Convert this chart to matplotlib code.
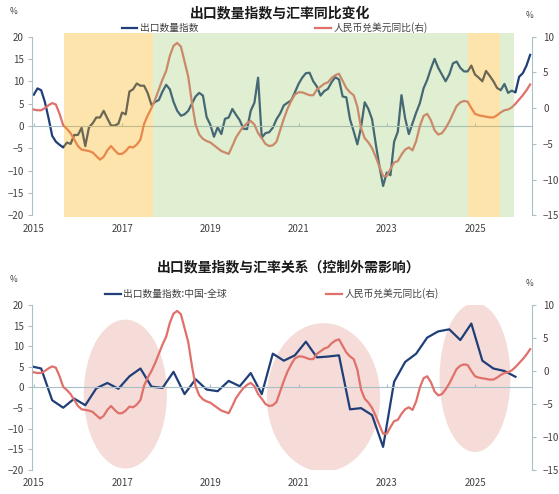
import matplotlib
matplotlib.use("Agg")
import matplotlib.pyplot as plt
from matplotlib.patches import Ellipse
import numpy as np

plt.rcParams['font.family'] = ['Noto Sans CJK SC', 'DejaVu Sans']

# month index: 0 = Jan 2015
months = np.arange(136)

# 出口数量指数 (left axis, %)
export_qty = [
    7.0, 8.4, 8.0, 5.4, 1.8, -2.2, -3.5, -4.2, -4.8, -3.7, -4.0, -2.0,
    -2.0, -0.4, -4.5, -0.3, 0.6, 1.9, 1.9, 3.4, 1.7, 0.1, 0.1, 0.5,
    3.0, 2.6, 7.7, 8.2, 9.5, 9.0, 9.0, 7.3, 4.7, 5.4, 5.8, 7.7,
    9.2, 8.2, 5.4, 3.4, 2.3, 2.6, 3.4, 5.0, 6.6, 7.4, 6.8, 2.0,
    0.3, -2.4, -0.3, -1.8, 1.6, 1.9, 3.8, 2.5, 1.3, -0.6, -0.7, 3.4,
    5.2, 10.8, -2.6, -1.6, -1.4, -0.4, 1.5, 2.8, 4.6, 5.2, 5.7, 7.5,
    9.4, 10.8, 11.8, 11.9, 10.0, 8.8, 6.8, 7.8, 8.3, 9.8, 10.9, 10.4,
    6.6, 6.4, 1.5, -1.2, -4.1, -0.3, 5.3, 3.8, 1.5, -4.0, -9.0, -13.4,
    -10.4, -11.0, -3.5, -1.3, 6.9, 1.7, -1.8, 0.6, 3.0, 5.1, 8.4, 10.3,
    12.8, 15.0, 13.0, 11.5, 10.0, 11.5, 14.0, 14.4, 13.0, 12.2, 12.2, 13.5,
    11.5, 10.8, 10.0, 12.3, 11.2, 10.0, 8.5, 8.0, 9.4, 7.4, 7.9, 7.5,
    11.0, 11.8, 13.5, 15.9,
]

# 人民币兑美元同比 (right axis, %)
cny_yoy = [
    -0.2, -0.3, -0.3, 0.0, 0.4, 0.7, 0.5, -0.8, -2.4, -2.9, -3.5, -4.4,
    -5.3, -5.8, -5.9, -6.0, -6.2, -6.7, -7.2, -6.8, -5.9, -5.3, -5.9, -6.4,
    -6.4, -6.0, -5.4, -5.5, -5.1, -4.4, -2.2, -1.0, 0.0, 1.2, 2.6, 4.0,
    5.2, 7.3, 8.7, 9.1, 8.6, 6.5, 4.4, 0.8, -2.3, -3.7, -4.3, -4.6,
    -4.8, -5.2, -5.6, -6.0, -6.2, -6.4, -5.3, -4.1, -3.3, -2.6, -2.1, -1.8,
    -2.3, -3.5, -4.2, -5.0, -5.3, -5.2, -4.7, -3.1, -1.5, -0.1, 1.0, 1.9,
    2.2, 2.2, 2.0, 1.8, 1.8, 2.6, 3.0, 3.4, 3.6, 4.2, 4.6, 4.8,
    3.8, 2.8, 2.2, 1.8, 0.2, -2.8, -4.2, -4.8, -5.6, -6.8, -8.2, -9.5,
    -9.5, -8.5, -7.6, -7.4, -6.5, -5.8, -5.5, -5.9, -4.6, -2.5, -1.1, -0.8,
    -1.7, -3.1, -3.7, -3.5, -2.8, -1.9, -0.8, 0.3, 0.8, 1.0, 0.9, 0.0,
    -0.8, -1.0, -1.1, -1.2, -1.3, -1.3, -1.0, -0.6, -0.3, -0.2, 0.1, 0.6,
    1.2, 1.8, 2.5, 3.3,
]

# 出口数量指数:中国-全球 (quarterly, left axis, %)
quarter_months = np.arange(-1, 132, 3)
export_gap = [
    5.2, 4.6, -3.1, -4.9, -2.7, -4.3, -0.2, 1.1, -0.3, 2.7, 4.6, 0.2,
    -0.1, 3.8, -1.6, 2.0, -0.5, -0.9, 1.6, 0.3, 3.5, -1.6, 8.2, 6.5,
    7.8, 11.1, 7.3, 7.5, 7.8, -5.3, -5.0, -6.7, -14.4, 1.4, 6.2, 8.2,
    12.1, 13.6, 14.1, 11.5, 15.5, 6.5, 4.6, 4.0, 2.6,
]

year_ticks = [0, 24, 48, 72, 96, 120]
year_labels = ["2015", "2017", "2019", "2021", "2023", "2025"]

# shaded periods (month index)
orange_spans = [(8.2, 32.3), (118.2, 126.8)]
green_spans = [(32.3, 118.2), (126.8, 130.6)]

# highlight ellipses: (center month, center value, width months, height value)
ellipses = [(24.9, -1.6, 22.6, 36.1), (78.8, -2.4, 30.8, 36.0), (120.0, 2.4, 19.3, 36.1)]

NAVY = "#203f78"
RED = "#e0706a"
AXC = "#a9c0c8"
TXT = "#404040"

fig = plt.figure(figsize=(5.59, 4.94), dpi=100)


def style_axes(ax1, ax2):
    ax1.set_xlim(-0.5, 135.5)
    ax1.set_ylim(-20, 20)
    ax2.set_ylim(-15, 10)
    ax1.set_yticks(range(-20, 21, 5))
    ax2.set_yticks(range(-15, 11, 5))
    for s in ["top", "right"]:
        ax1.spines[s].set_visible(False)
    for s in ["top", "bottom", "left"]:
        ax2.spines[s].set_visible(False)
    ax1.spines["left"].set_color(AXC)
    ax1.spines["left"].set_bounds(-20, 20)
    ax2.spines["right"].set_color(AXC)
    ax2.spines["right"].set_bounds(-15, 10)
    ax1.spines["bottom"].set_position(("data", 0))
    ax1.spines["bottom"].set_color(AXC)
    ax1.set_xticks(year_ticks)
    ax1.tick_params(axis="x", labelbottom=False, length=2.5, color=AXC, direction="in")
    ax1.tick_params(axis="y", length=3, color=AXC, labelsize=7, labelcolor=TXT, pad=3)
    ax2.tick_params(axis="y", length=3, color=AXC, labelsize=7, labelcolor=TXT, pad=5)
    sec = ax1.secondary_xaxis("bottom")
    sec.set_xticks(year_ticks)
    sec.set_xticklabels(year_labels)
    sec.spines["bottom"].set_visible(False)
    sec.tick_params(length=0, labelsize=7, labelcolor=TXT, pad=6)


# ---------------- top chart ----------------
ax1 = fig.add_axes([0.0572, 0.5638, 0.8945, 0.3623])
ax2 = ax1.twinx()
style_axes(ax1, ax2)
l1, = ax1.plot(months, export_qty, color=NAVY, lw=1.6, label="出口数量指数", zorder=2)
l2, = ax2.plot(months, cny_yoy, color=RED, lw=1.6, label="人民币兑美元同比(右)", zorder=2)
for a, b in orange_spans:
    ax2.axvspan(a, b, ymin=-0.01, ymax=1.02, color=(0.98, 0.70, 0.07), alpha=0.35,
                lw=0, zorder=5, clip_on=False)
for a, b in green_spans:
    ax2.axvspan(a, b, ymin=-0.01, ymax=1.02, color=(0.60, 0.78, 0.42), alpha=0.3,
                lw=0, zorder=5, clip_on=False)
fig.legend([l1, l2], [l1.get_label(), l2.get_label()], loc="center",
           bbox_to_anchor=(275 / 559, 1 - 28 / 494), ncol=2, frameon=False,
           fontsize=7, labelcolor=TXT, handlelength=1.6, handletextpad=0.3,
           columnspacing=12.0)
fig.text(280 / 559, 1 - 13 / 494, "出口数量指数与汇率同比变化", ha="center", va="center",
         fontsize=10, fontweight="bold", color="#1a1a1a")
fig.text(14 / 559, 1 - 12 / 494, "%", ha="center", va="center", fontsize=6, color=TXT)
fig.text(530 / 559, 1 - 16 / 494, "%", ha="center", va="center", fontsize=6, color=TXT)

# ---------------- bottom chart ----------------
bx1 = fig.add_axes([0.0572, 0.0486, 0.8945, 0.334])
bx2 = bx1.twinx()
style_axes(bx1, bx2)
for cx, cy, w, h in ellipses:
    bx1.add_patch(Ellipse((cx, cy), w, h, facecolor="#f5dcd8", edgecolor="none", zorder=0))
m1, = bx1.plot(quarter_months, export_gap, color=NAVY, lw=1.6, label="出口数量指数:中国-全球", zorder=2)
m2, = bx2.plot(months, cny_yoy, color=RED, lw=1.6, label="人民币兑美元同比(右)", zorder=2)
fig.legend([m1, m2], [m1.get_label(), m2.get_label()], loc="center",
           bbox_to_anchor=(272 / 559, 1 - 294 / 494), ncol=2, frameon=False,
           fontsize=7, labelcolor=TXT, handlelength=1.6, handletextpad=0.3,
           columnspacing=10.2)
fig.text(289 / 559, 1 - 267 / 494, "出口数量指数与汇率关系（控制外需影响）", ha="center",
         va="center", fontsize=10, fontweight="bold", color="#1a1a1a")
fig.text(14 / 559, 1 - 279 / 494, "%", ha="center", va="center", fontsize=6, color=TXT)
fig.text(530 / 559, 1 - 284 / 494, "%", ha="center", va="center", fontsize=6, color=TXT)

fig.savefig("out.png", dpi=100)
